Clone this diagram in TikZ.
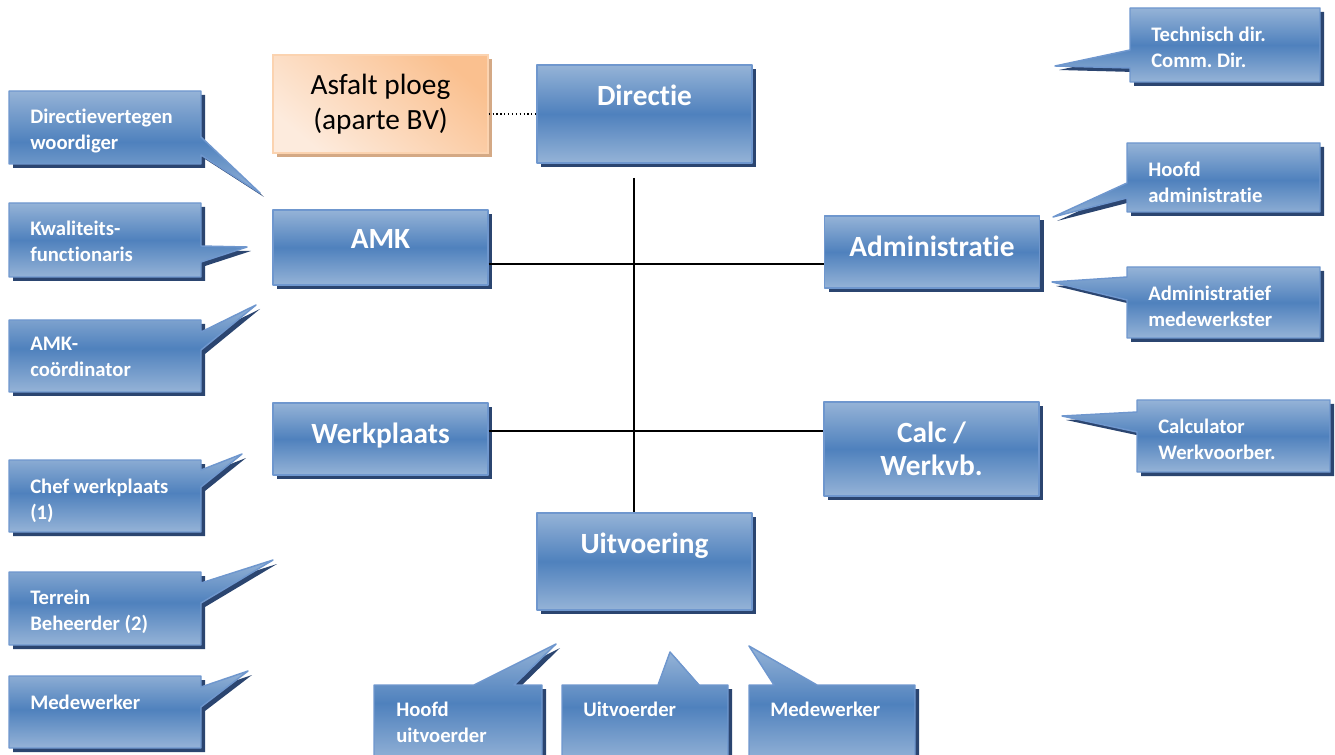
\documentclass[tikz,border=0pt]{standalone}
\usepackage{fontspec}
\setmainfont{Carlito}[RawFeature=-liga]
\frenchspacing
\usetikzlibrary{positioning,shadows}

\definecolor{bxlight}{HTML}{95B3D7}
\definecolor{bxmid}{HTML}{4F81BD}
\definecolor{bxedge}{HTML}{6F97CE}
\definecolor{bxshadow}{HTML}{2B4570}
\definecolor{asflight}{HTML}{FDEBDD}
\definecolor{asfdark}{HTML}{FAC08F}
\definecolor{asfedge}{HTML}{FBD3B0}
\definecolor{asfshadow}{HTML}{D4A985}

\tikzset{
  bluefill/.style={top color=bxlight, bottom color=bxlight, middle color=bxmid,
    draw=bxedge, line width=1.1pt, line join=round,
    general shadow={fill=bxshadow, shadow xshift=3pt, shadow yshift=-3pt}},
  mainbox/.style={bluefill, minimum width=161.25pt, inner sep=0pt},
  orgbox/.style={top color=asfdark, bottom color=asflight, shading angle=-40,
    draw=asfedge, line width=1.1pt, minimum width=161.25pt, minimum height=73.5pt,
    general shadow={fill=asfshadow, shadow xshift=3pt, shadow yshift=-3pt},
    font=\fontsize{22}{26.25}\selectfont, align=center},
  maintext/.style={font=\bfseries\fontsize{22}{24.75}\selectfont, text=white,
    align=center, inner sep=0pt, anchor=north},
  calltext/.style={font=\bfseries\fontsize{15.5}{19.5}\selectfont, text=white,
    align=left, inner sep=0pt, anchor=north west},
  link/.style={line width=1pt, black}
}

\begin{document}
\begin{tikzpicture}[x=0.75pt,y=-0.75pt]
  \useasboundingbox (0,0) rectangle (1335,755);

  % callouts, left column
  \path[bluefill] (9,91) -- (201,91) -- (201,137) -- (260,193) -- (201,155) -- (201,164) -- (9,164) -- cycle;
  \path[bluefill] (9,203) -- (201,203) -- (201,246) -- (247,247) -- (201,262) -- (201,277) -- (9,277) -- cycle;
  \path[bluefill] (9,320) -- (201,320) -- (201,332) -- (256,305) -- (201,350) -- (201,392) -- (9,392) -- cycle;
  \path[bluefill] (9,460) -- (201,460) -- (201,470) -- (242,454) -- (201,487) -- (201,532) -- (9,532) -- cycle;
  \path[bluefill] (9,572) -- (201,572) -- (201,583) -- (273,560) -- (201,603) -- (201,645) -- (9,645) -- cycle;
  \path[bluefill] (9,676) -- (201,676) -- (201,687) -- (248,671) -- (201,707) -- (201,748) -- (9,748) -- cycle;
  \foreach \n/\y/\t in {dirv/109/{Directievertegen\\woordiger}, kwal/221/{Kwaliteits-\\functionaris},
      amkc/337/{AMK-\\coördinator}, chef/479/{Chef werkplaats\\(1)},
      terr/590/{Terrein\\Beheerder (2)}, medl/695/{Medewerker}}
    \node[calltext] (\n) at (30,\y) {\t};

  % callouts, right column
  \path[bluefill] (1130,8) -- (1320,8) -- (1320,82) -- (1130,82) -- (1130,68) -- (1055,66) -- (1130,50) -- cycle;
  \path[bluefill] (1127,143) -- (1320,143) -- (1320,212) -- (1127,212) -- (1127,198) -- (1053,217) -- (1127,183) -- cycle;
  \path[bluefill] (1127,267) -- (1320,267) -- (1320,338) -- (1127,338) -- (1127,300) -- (1052,282) -- (1127,277) -- cycle;
  \path[bluefill] (1137,400) -- (1330,400) -- (1330,472) -- (1137,472) -- (1137,432) -- (1062,416) -- (1137,412) -- cycle;
  \node[calltext] (tdir) at (1151,27) {Technisch dir.\\Comm. Dir.};
  \node[calltext] (hadm) at (1148,162) {Hoofd\\administratie};
  \node[calltext] (madm) at (1148,286) {Administratief\\medewerkster};
  \node[calltext] (cwvb) at (1158,419) {Calculator\\Werkvoorber.};

  % callouts, bottom row
  \path[bluefill] (374,685) -- (474,685) -- (556,644) -- (514,685) -- (542,685) -- (542,762) -- (374,762) -- cycle;
  \path[bluefill] (562,685) -- (658,685) -- (670,652) -- (699,685) -- (728,685) -- (728,762) -- (562,762) -- cycle;
  \path[bluefill] (749,685) -- (774,685) -- (749,646) -- (817,685) -- (915,685) -- (915,762) -- (749,762) -- cycle;
  \node[calltext] (huit) at (396,702) {Hoofd\\uitvoerder};
  \node[calltext] (uitv) at (583,702) {Uitvoerder};
  \node[calltext] (medb) at (770,702) {Medewerker};

  % main boxes
  \node[orgbox] (asfalt) at (380.5,104) {Asfalt ploeg\\(aparte BV)};
  \node[mainbox, minimum height=73.5pt] (directie) at (644.5,114) {};
  \node[mainbox, minimum height=56.25pt] (amk) at (380.5,247.5) {};
  \node[mainbox, minimum height=54pt] (werkplaats) at (380.5,439) {};
  \node[mainbox, minimum height=72.75pt] (uitvoering) at (644.5,561.5) {};
  \node[mainbox, minimum height=54pt] (administratie) at (932,252) {};
  \node[mainbox, minimum height=70.5pt] (calc) at (931.5,449) {};
  \foreach \n/\t in {directie/Directie, amk/AMK, werkplaats/Werkplaats, uitvoering/Uitvoering,
      administratie/Administratie, calc/{Calc /\\Werkvb.}}
    \node[maintext] (\n-t) at ([yshift=-15pt]\n.north) {\t};

  % lines
  \coordinate (hubtop) at (634,178);
  \coordinate (hub1) at (634,264);
  \coordinate (hub2) at (634,431);
  \draw[link] (hubtop) -- (hubtop |- uitvoering.north);
  \draw[link] (amk.east |- hub1) -- (administratie.west |- hub1);
  \draw[link] (werkplaats.east |- hub2) -- (calc.west |- hub2);
  \draw[dotted, line width=0.9pt] (asfalt.east |- directie.west) -- (directie.west);
\end{tikzpicture}
\end{document}
